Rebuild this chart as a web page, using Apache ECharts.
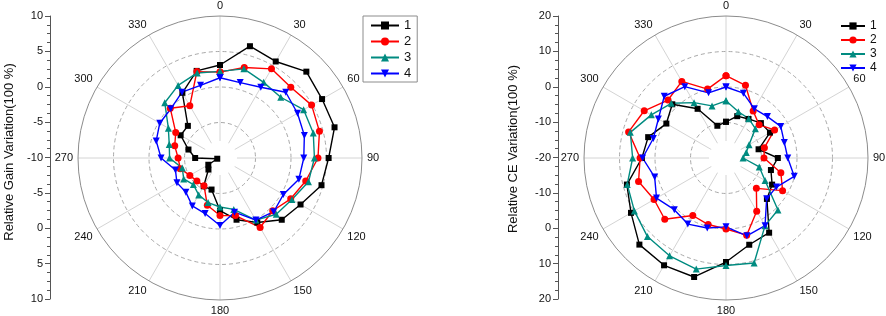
<!DOCTYPE html>
<html>
<head>
<meta charset="utf-8">
<script src="https://cdn.jsdelivr.net/npm/echarts@6/dist/echarts.min.js"></script>
<style>
  html, body { margin: 0; padding: 0; background: #fff; }
  #chart { width: 886px; height: 316px; }
</style>
</head>
<body>
<div id="chart"></div>
<script>
// angle of every measurement (degrees, clockwise from top)
var angles = [0, 15, 30, 45, 60, 75, 90, 105, 120, 135, 150, 165,
              180, 195, 210, 225, 240, 255, 270, 285, 300, 315, 330, 345];
var seriesNames = ['1', '2', '3', '4'];

// relative gain variation (left chart)
var gain1 = [3.1, 6.3, 5.7, 7.2, 6.6, 6.7, 5.3, 4.8, 3.1, 2.3, 0.5, -1.0,
             -2.6, -5.4, -5.4, -7.7, -8.1, -9.6, -6.5, -5.4, -3.6, -3.6, 0.6, 2.7];
var gain2 = [2.1, 3.2, 4.5, 4.1, 4.9, 4.5, 3.8, 2.5, 1.5, 0.5, 1.3, -1.6,
             -1.9, -3.1, -5.5, -5.4, -5.1, -4.2, -4.1, -3.4, -2.8, -0.1, -1.5, 2.6];
var gain3 = [2.2, 3.0, 2.3, 2.1, 3.6, 3.6, 3.3, 2.9, 1.7, 1.2, 0.1, -2.5,
             -3.1, -3.5, -4.0, -4.7, -4.1, -4.5, -2.9, -2.6, -1.6, 1.0, 1.8, 2.4];
var gain4 = [1.3, 1.0, 1.5, 3.1, 2.6, 2.3, 1.8, 1.5, 0.3, 0.7, 0.1, -2.1,
             -0.5, -1.9, -2.2, -3.2, -3.0, -3.5, -1.7, -0.7, -0.2, -0.2, 0.7, 0.6];

// relative CE variation (right chart)
var ce1 = [-9.8, -7.8, -7.3, -6.1, -5.7, -10.5, -5.4, -6.9, -5.0, -3.7, 4.3, 5.3,
           9.3, 14.7, 14.9, 14.5, 10.9, 8.9, 3.7, 2.7, -0.6, 1.4, -4.0, -10.6];
var ce2 = [3.2, 1.2, -4.7, -6.8, -4.2, -8.8, -9.3, -4.0, -1.6, -7.9, -2.7, 2.5,
           0.0, -0.6, -1.3, 4.4, 3.4, 5.5, 4.2, 8.4, 6.6, 3.1, 4.9, 0.1];
var ce3 = [-3.9, -6.5, -7.2, -8.3, -12.5, -14.1, -15.2, -10.3, -7.3, 0.7, 2.0, 10.6,
           10.3, 12.4, 11.8, 11.3, 9.8, 8.8, 6.3, 7.9, 4.3, 1.8, -2.0, -4.8];
var ce4 = [0.0, -1.1, -4.0, -3.5, -2.2, -3.0, -2.6, -0.1, -3.6, -3.8, 2.0, 2.7,
           -0.6, 0.4, 1.5, 0.6, 2.6, 0.8, 3.5, 1.2, 2.0, 4.6, 3.2, -1.0];

var colors = ['#000000', '#ff0000', '#008b80', '#0000ff'];
var symbols = ['rect', 'circle', 'triangle', 'triangle'];
var rotates = [0, 0, 0, 180];

var chart = echarts.init(document.getElementById('chart'));

// [radius, angle] pairs, closed back to the first point
function polarData(vals){
	var out = [];
	for (var i = 0; i < vals.length; i++) {
		out.push([vals[i], angles[i]]);
	}
	out.push([vals[0], 360]);
	return out;
}

function makeSeries(vals, idx, polarIdx){
	return {
		type: 'line',
		name: seriesNames[idx],
		coordinateSystem: 'polar',
		polarIndex: polarIdx,
		data: polarData(vals),
		symbol: symbols[idx],
		symbolSize: idx == 0 ? 6 : 7,
		symbolRotate: rotates[idx],
		lineStyle: { width: 1.4, color: colors[idx] },
		itemStyle: { color: colors[idx] },
		z: 3
	};
}

function angleAxis(polarIdx){
	return {
		polarIndex: polarIdx,
		type: 'value',
		min: 0,
		max: 360,
		interval: 30,
		startAngle: 90,
		clockwise: true,
		axisLine: { lineStyle: { color: '#8c8c8c', width: 1 } },
		axisTick: { show: false },
		axisLabel: {
			margin: 5,
			fontSize: 11,
			color: '#111',
			fontFamily: 'Liberation Sans',
			formatter: function(v){ return v == 360 ? '' : v; }
		},
		splitLine: { lineStyle: { color: '#d4d4d4', width: 1 } }
	};
}

function radiusAxis(polarIdx, lim){
	return {
		polarIndex: polarIdx,
		type: 'value',
		min: -lim,
		max: lim,
		interval: lim / 2,
		axisLine: { show: false },
		axisTick: { show: false },
		axisLabel: { show: false },
		splitLine: {
			lineStyle: {
				color: ['transparent', '#a8a8a8', '#a8a8a8', '#a8a8a8', 'transparent'],
				type: [4, 3],
				width: 1
			}
		}
	};
}

// mirrored scale on the left of each polar plot
function sideAxis(gridIdx, lim){
	return {
		gridIndex: gridIdx,
		type: 'value',
		min: -2 * lim,
		max: 2 * lim,
		interval: lim / 2,
		axisLine: { show: true, lineStyle: { color: '#555', width: 1 } },
		axisTick: { show: true, length: 5, lineStyle: { color: '#555' } },
		minorTick: { show: true, splitNumber: 4, length: 3, lineStyle: { color: '#555' } },
		splitLine: { show: false },
		axisLabel: {
			margin: 7,
			fontSize: 11,
			color: '#111',
			fontFamily: 'Liberation Sans',
			formatter: function(v){ return Math.abs(v) - lim; }
		}
	};
}

function sideTitle(x, y, text){
	return {
		type: 'text',
		x: x,
		y: y,
		rotation: Math.PI / 2,
		silent: true,
		style: {
			text: text,
			fill: '#111',
			font: '13px "Liberation Sans"',
			align: 'center',
			verticalAlign: 'middle'
		}
	};
}

var option = {
	animation: false,
	backgroundColor: '#fff',
	polar: [
		{ center: [220, 158], radius: 142 },
		{ center: [726, 158], radius: 142 }
	],
	angleAxis: [angleAxis(0), angleAxis(1)],
	radiusAxis: [radiusAxis(0, 10), radiusAxis(1, 20)],
	grid: [
		{ left: 50, top: 16, width: 1, height: 283 },
		{ left: 558, top: 16, width: 1, height: 283 }
	],
	xAxis: [
		{ gridIndex: 0, type: 'value', show: false },
		{ gridIndex: 1, type: 'value', show: false }
	],
	yAxis: [sideAxis(0, 10), sideAxis(1, 20)],
	legend: [
		{
			data: seriesNames,
			orient: 'vertical',
			left: 363,
			top: 16,
			width: 54,
			padding: [3, 6, 2, 7],
			borderColor: '#8c8c8c',
			borderWidth: 1,
			itemWidth: 28,
			itemHeight: 10,
			itemGap: 3,
			selectedMode: false,
			textStyle: { fontSize: 13, color: '#111', fontFamily: 'Liberation Sans' }
		},
		{
			data: seriesNames,
			orient: 'vertical',
			left: 840,
			top: 20,
			padding: 0,
			itemWidth: 24,
			itemHeight: 9,
			itemGap: 2,
			selectedMode: false,
			textStyle: { fontSize: 12, color: '#111', fontFamily: 'Liberation Sans' }
		}
	],
	graphic: [
		{ type: 'circle', shape: { cx: 220, cy: 158, r: 17 }, style: { fill: '#fff' }, z: 1, silent: true },
		{ type: 'circle', shape: { cx: 726, cy: 158, r: 17 }, style: { fill: '#fff' }, z: 1, silent: true },
		sideTitle(9, 152, 'Relative Gain Variation(100 %)'),
		sideTitle(513, 149, 'Relative CE Variation(100 %)')
	],
	series: [
		makeSeries(gain1, 0, 0),
		makeSeries(gain2, 1, 0),
		makeSeries(gain3, 2, 0),
		makeSeries(gain4, 3, 0),
		makeSeries(ce1, 0, 1),
		makeSeries(ce2, 1, 1),
		makeSeries(ce3, 2, 1),
		makeSeries(ce4, 3, 1)
	]
};
chart.setOption(option);
</script>
</body>
</html>
